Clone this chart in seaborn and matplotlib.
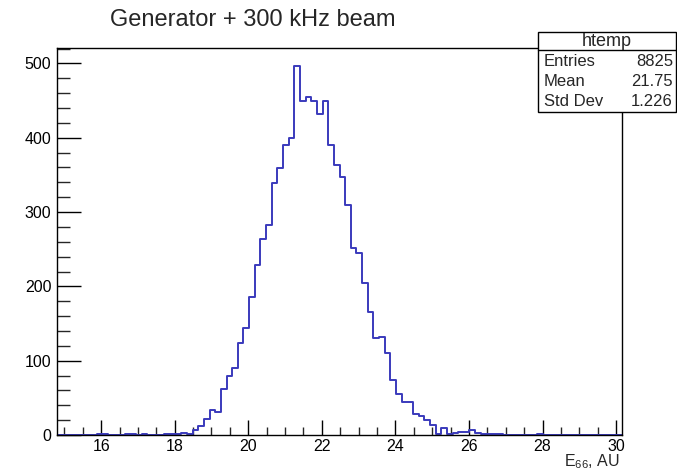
import numpy as np
import pandas as pd
import matplotlib
matplotlib.use("Agg")
import matplotlib.pyplot as plt
from matplotlib.patches import Rectangle
from matplotlib.lines import Line2D
from matplotlib.ticker import MultipleLocator
import seaborn as sns

# ---- data ----
x_min, x_max, n_bins = 14.80, 30.16, 100
counts = [0, 0, 0, 0, 0, 0, 0, 1, 1, 0,
          0, 0, 1, 1, 0, 1, 0, 0, 0, 1,
          1, 1, 3, 2, 7, 12, 21, 34, 31, 62,
          80, 90, 124, 144, 186, 229, 264, 282, 339, 359,
          390, 400, 496, 449, 455, 449, 432, 450, 390, 363,
          347, 310, 252, 245, 204, 165, 130, 132, 110, 74,
          55, 45, 44, 28, 26, 20, 13, 2, 10, 2,
          3, 4, 4, 7, 3, 1, 1, 1, 1, 0,
          0, 0, 0, 0, 0, 1, 0, 0, 0, 0,
          0, 0, 0, 0, 0, 0, 0, 0, 0, 0]
x_ticks = [16, 18, 20, 22, 24, 26, 28, 30]
y_ticks = [0, 100, 200, 300, 400, 500]
title = "Generator + 300 kHz beam"
x_label = r"E$_{\mathregular{66}}$, AU"
stats_name = "htemp"
stats_rows = [("Entries", "8825"), ("Mean", "21.75"), ("Std Dev", "1.226")]

edges = np.linspace(x_min, x_max, n_bins + 1)
centers = 0.5 * (edges[:-1] + edges[1:])
df = pd.DataFrame({"E66": centers, "n": counts})

sns.set_style("ticks")
plt.rcParams["font.family"] = ["Liberation Sans", "DejaVu Sans"]
plt.rcParams["mathtext.fontset"] = "custom"
plt.rcParams["mathtext.rm"] = "Liberation Sans"
plt.rcParams["mathtext.it"] = "Liberation Sans:italic"

W, H = 677, 470
fig = plt.figure(figsize=(W / 100, H / 100), dpi=100)
fig.patch.set_facecolor("white")
ax = fig.add_axes([57 / W, 1 - 435 / H, (622 - 57) / W, (435 - 48) / H])
ax.set_facecolor("white")

sns.histplot(data=df, x="E66", weights="n", bins=n_bins, binrange=(x_min, x_max),
             element="step", fill=False, color="#3a3abc", linewidth=1.4, ax=ax)

ax.set_xlim(x_min, x_max)
ax.set_ylim(0, max(counts) * 1.05)
ax.set_xticks(x_ticks)
ax.set_yticks(y_ticks)
ax.xaxis.set_minor_locator(MultipleLocator(0.5))
ax.yaxis.set_minor_locator(MultipleLocator(20))
ax.tick_params(axis="x", which="major", direction="in", length=11, width=1,
               labelsize=11.5, pad=3, colors="black")
ax.tick_params(axis="x", which="minor", direction="in", length=5.5, width=1)
ax.tick_params(axis="y", which="major", direction="in", length=17, width=1,
               labelsize=11.5, pad=4, colors="black")
ax.tick_params(axis="y", which="minor", direction="in", length=9, width=1)
ax.set_xlabel("")
ax.set_ylabel("")
for s in ax.spines.values():
    s.set_visible(True)
    s.set_linewidth(1.0)
    s.set_color("black")

fig.text(110 / W, 1 - 20 / H, title, ha="left", va="center", fontsize=17)
fig.text(620 / W, 1 - 462 / H, x_label, ha="right", va="center", fontsize=11.5)

# stats box
bx0, bx1 = 538 / W, 676 / W
by_top, by_bot = 1 - 32 / H, 1 - 112 / H
fig.add_artist(Rectangle((bx0, by_bot), bx1 - bx0, by_top - by_bot,
                         transform=fig.transFigure, facecolor="white",
                         edgecolor="black", linewidth=1.0, zorder=5))
fig.add_artist(Line2D([bx0, bx1], [1 - 50 / H, 1 - 50 / H],
                      transform=fig.transFigure, color="black", linewidth=1.0, zorder=6))
fig.text((bx0 + bx1) / 2, 1 - 41 / H, stats_name, ha="center", va="center",
         fontsize=13, zorder=7)
for i, (k, v) in enumerate(stats_rows):
    yy = 1 - (61 + 20 * i) / H
    fig.text(544 / W, yy, k, ha="left", va="center", fontsize=12, zorder=7)
    fig.text(673 / W, yy, v, ha="right", va="center", fontsize=12, zorder=7)

fig.savefig("out.png", dpi=100, facecolor="white")
